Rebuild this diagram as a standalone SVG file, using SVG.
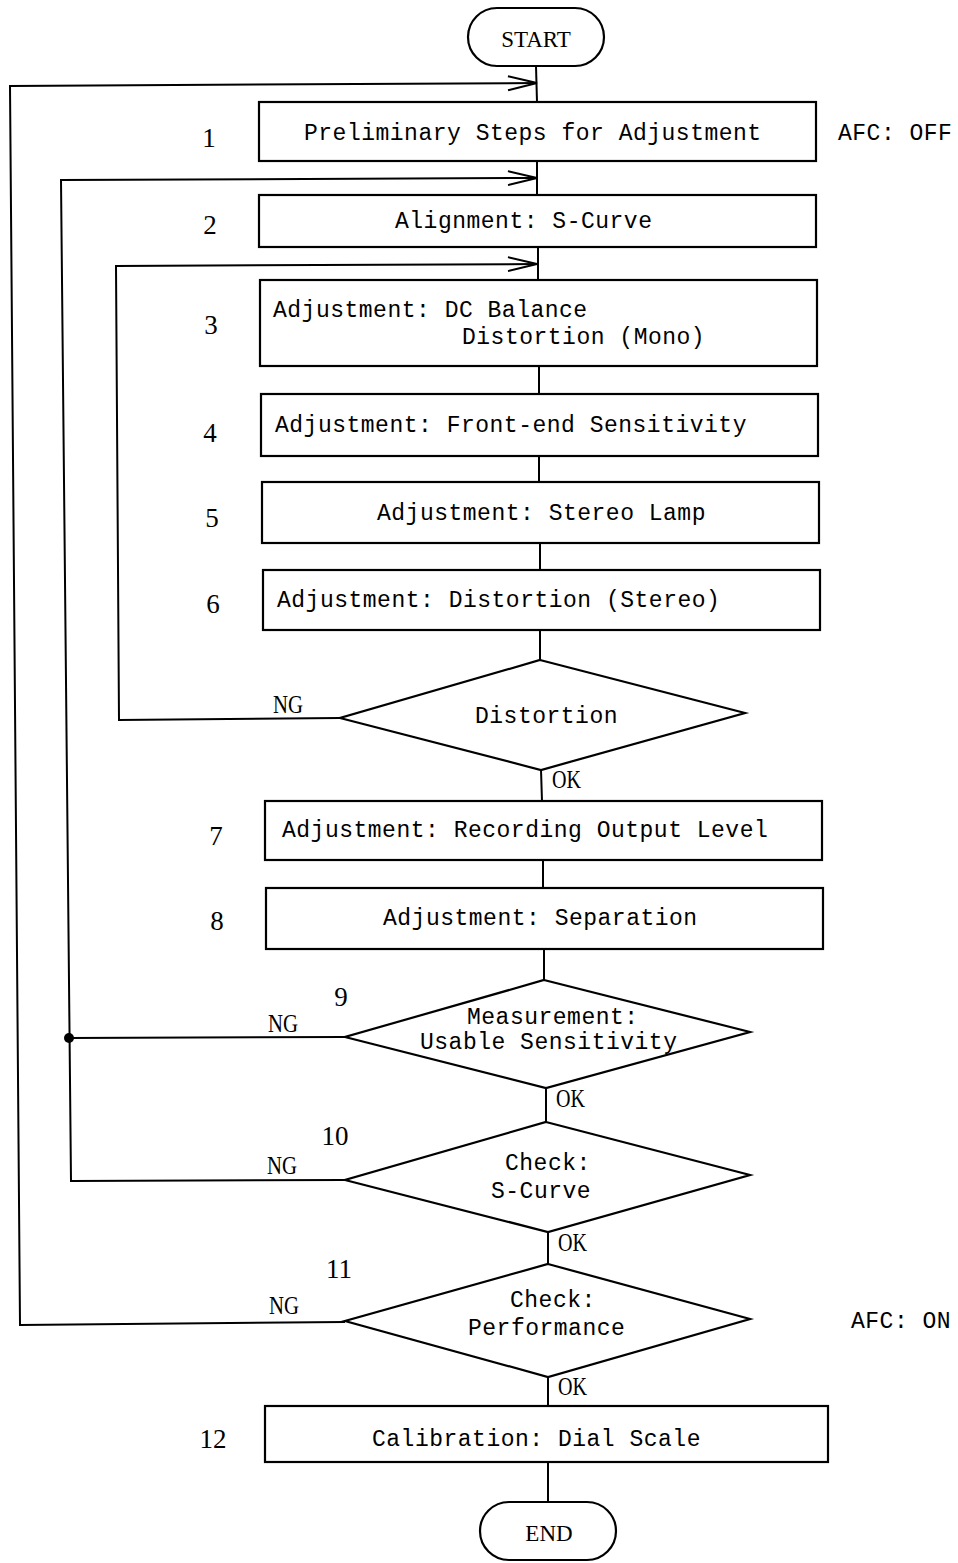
<svg xmlns="http://www.w3.org/2000/svg" width="958" height="1563" viewBox="0 0 958 1563">
<style>
.b{fill:#fff;stroke:#000;stroke-width:2.2}
.l{fill:none;stroke:#000;stroke-width:2}
.t{font-family:"Liberation Mono",monospace;font-size:23px;letter-spacing:0.5px;fill:#000}
.s{font-family:"Liberation Serif",serif;font-size:23px;fill:#000}
.d{font-family:"Liberation Serif",serif;font-size:27px;fill:#000}
.n{font-family:"Liberation Serif",serif;font-size:25px;fill:#000}
</style>
<defs>
<marker id="ah" markerWidth="32" markerHeight="20" refX="30" refY="10" orient="auto" markerUnits="userSpaceOnUse">
<polyline points="1,3 30,10 1,17" fill="none" stroke="#000" stroke-width="2"/>
</marker>
</defs>
<g id="connectors">
<path class="l" d="M536,66 L537,102"/>
<path class="l" d="M537,161 L537,195"/>
<path class="l" d="M538,247 L538,280"/>
<path class="l" d="M539,366 L539,394"/>
<path class="l" d="M539,456 L539,482"/>
<path class="l" d="M540,543 L540,570"/>
<path class="l" d="M540,630 L540,660"/>
<path class="l" d="M541,770 L542,801"/>
<path class="l" d="M543,860 L543,888"/>
<path class="l" d="M544,949 L544,980"/>
<path class="l" d="M546,1088 L546,1122"/>
<path class="l" d="M548,1232 L548,1264"/>
<path class="l" d="M548,1377 L548,1406"/>
<path class="l" d="M548,1462 L548,1502"/>
<path class="l" d="M345,1322 L20,1325 L10,86 L537,83" marker-end="url(#ah)"/>
<path class="l" d="M345,1180 L71,1181 L61,180 L537,178" marker-end="url(#ah)"/>
<path class="l" d="M345,1037 L69,1038"/>
<circle cx="69" cy="1038" r="5" fill="#000"/>
<path class="l" d="M340,718 L119,720 L116,266 L537,264" marker-end="url(#ah)"/>
</g>
<g id="start"><rect class="b" x="468" y="8" width="136" height="58" rx="29"/><text class="s" x="536" y="47" text-anchor="middle">START</text></g>
<g id="step1"><rect class="b" x="259" y="102" width="557" height="59"/><text class="t" x="304" y="140">Preliminary Steps for Adjustment</text><text class="d" x="209" y="147" text-anchor="middle">1</text><text class="t" x="838" y="140">AFC: OFF</text></g>
<g id="step2"><rect class="b" x="259" y="195" width="557" height="52"/><text class="t" x="395" y="228">Alignment:  S-Curve</text><text class="d" x="210" y="234" text-anchor="middle">2</text></g>
<g id="step3"><rect class="b" x="260" y="280" width="557" height="86"/><text class="t" x="273" y="317">Adjustment:  DC Balance</text><text class="t" x="462" y="344">Distortion (Mono)</text><text class="d" x="211" y="334" text-anchor="middle">3</text></g>
<g id="step4"><rect class="b" x="261" y="394" width="557" height="62"/><text class="t" x="275" y="432">Adjustment:  Front-end Sensitivity</text><text class="d" x="210" y="442" text-anchor="middle">4</text></g>
<g id="step5"><rect class="b" x="262" y="482" width="557" height="61"/><text class="t" x="377" y="520">Adjustment:  Stereo Lamp</text><text class="d" x="212" y="527" text-anchor="middle">5</text></g>
<g id="step6"><rect class="b" x="263" y="570" width="557" height="60"/><text class="t" x="277" y="607">Adjustment:  Distortion (Stereo)</text><text class="d" x="213" y="613" text-anchor="middle">6</text></g>
<g id="dec-distortion"><polygon class="b" points="540,660 745,713 541,770 340,718"/><text class="t" x="475" y="723">Distortion</text><text class="n" x="273" y="713" textLength="30" lengthAdjust="spacingAndGlyphs">NG</text><text class="n" x="552" y="788" textLength="29" lengthAdjust="spacingAndGlyphs">OK</text></g>
<g id="step7"><rect class="b" x="265" y="801" width="557" height="59"/><text class="t" x="282" y="837">Adjustment:  Recording Output Level</text><text class="d" x="216" y="845" text-anchor="middle">7</text></g>
<g id="step8"><rect class="b" x="266" y="888" width="557" height="61"/><text class="t" x="383" y="925">Adjustment:  Separation</text><text class="d" x="217" y="930" text-anchor="middle">8</text></g>
<g id="step9"><polygon class="b" points="544,980 750,1032 546,1088 345,1037"/><text class="t" x="467" y="1024">Measurement:</text><text class="t" x="420" y="1049">Usable Sensitivity</text><text class="d" x="341" y="1006" text-anchor="middle">9</text><text class="n" x="268" y="1032" textLength="30" lengthAdjust="spacingAndGlyphs">NG</text><text class="n" x="556" y="1107" textLength="29" lengthAdjust="spacingAndGlyphs">OK</text></g>
<g id="step10"><polygon class="b" points="546,1122 750,1175 548,1232 345,1180"/><text class="t" x="505" y="1170">Check:</text><text class="t" x="491" y="1198">S-Curve</text><text class="d" x="335" y="1145" text-anchor="middle">10</text><text class="n" x="267" y="1174" textLength="30" lengthAdjust="spacingAndGlyphs">NG</text><text class="n" x="558" y="1251" textLength="29" lengthAdjust="spacingAndGlyphs">OK</text></g>
<g id="step11"><polygon class="b" points="548,1264 750,1319 548,1377 345,1321"/><text class="t" x="510" y="1307">Check:</text><text class="t" x="468" y="1335">Performance</text><text class="d" x="339" y="1278" text-anchor="middle">11</text><text class="n" x="269" y="1314" textLength="30" lengthAdjust="spacingAndGlyphs">NG</text><text class="n" x="558" y="1395" textLength="29" lengthAdjust="spacingAndGlyphs">OK</text><text class="t" x="851" y="1328">AFC: ON</text></g>
<g id="step12"><rect class="b" x="265" y="1406" width="563" height="56"/><text class="t" x="372" y="1446">Calibration:  Dial Scale</text><text class="d" x="213" y="1448" text-anchor="middle">12</text></g>
<g id="end"><rect class="b" x="480" y="1502" width="136" height="58" rx="29"/><text class="s" x="549" y="1541" text-anchor="middle">END</text></g>
</svg>
